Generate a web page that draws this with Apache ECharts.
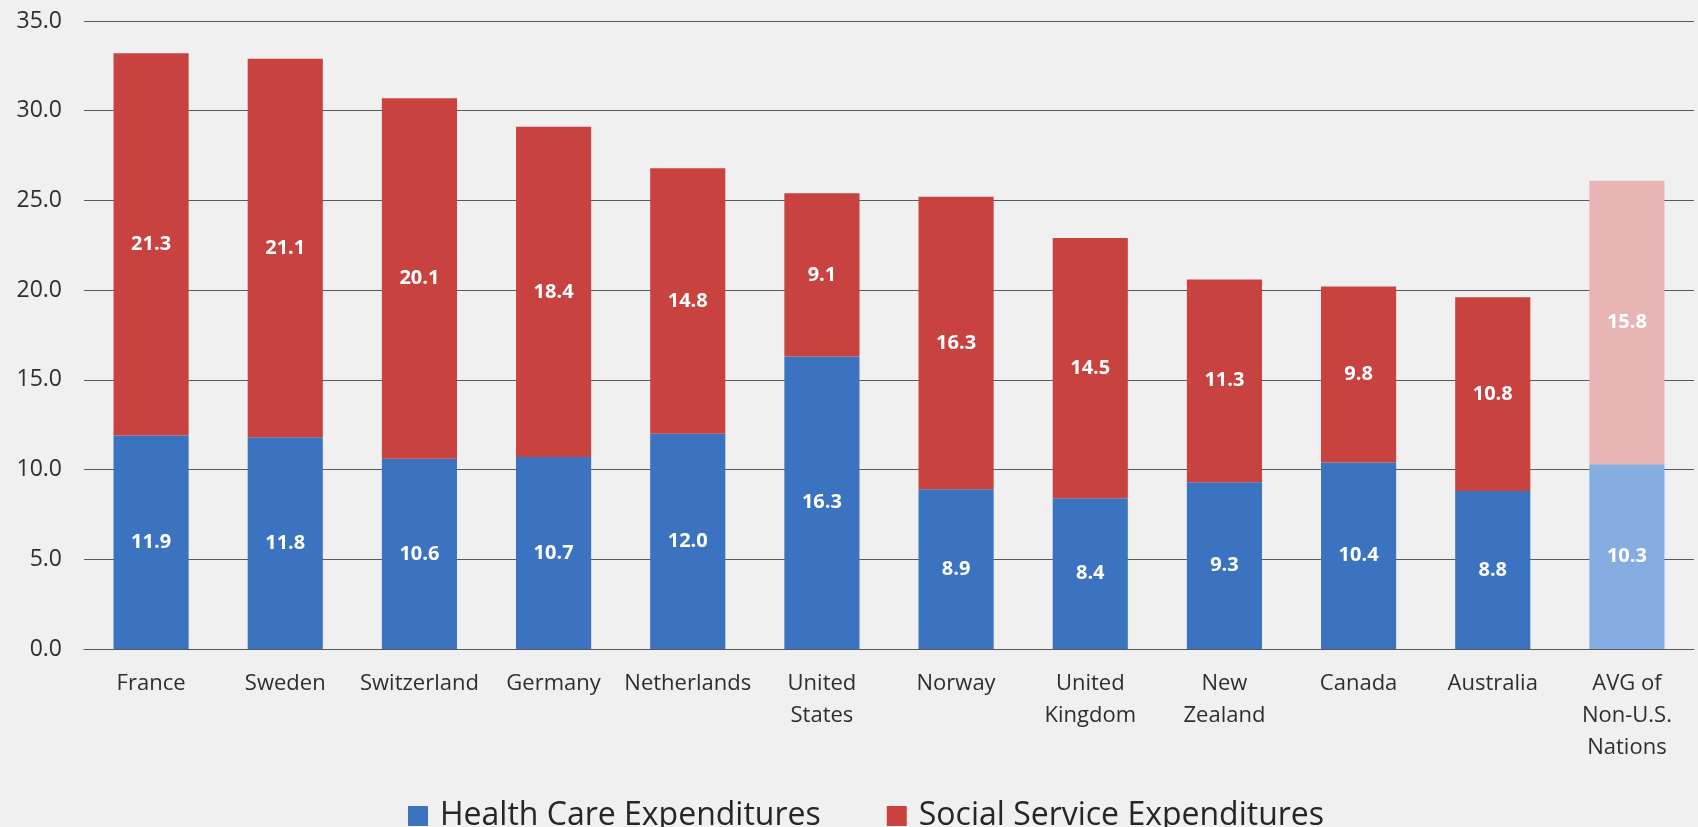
<!DOCTYPE html>
<html>
<head>
<meta charset="utf-8">
<script src="https://cdn.jsdelivr.net/npm/echarts@6/dist/echarts.min.js"></script>
<style>
  html, body { margin: 0; padding: 0; background: #f0f0f0; }
  #chart { width: 1698px; height: 827px; }
</style>
</head>
<body>
<div id="chart"></div>
<script>
// Public spending as % of GDP, health care vs. social services
const countries = [
  'France', 'Sweden', 'Switzerland', 'Germany', 'Netherlands', 'United\nStates',
  'Norway', 'United\nKingdom', 'New\nZealand', 'Canada', 'Australia', 'AVG of\nNon-U.S.\nNations'
];
const healthCare = [11.9, 11.8, 10.6, 10.7, 12.0, 16.3, 8.9, 8.4, 9.3, 10.4, 8.8, 10.3];
const socialService = [21.3, 21.1, 20.1, 18.4, 14.8, 9.1, 16.3, 14.5, 11.3, 9.8, 10.8, 15.8];
const yTicks = { min: 0, max: 35, interval: 5 };

const BLUE = '#3b73c1';
const RED = '#c8423f';
const BLUE_LIGHT = '#86ade2';
const RED_LIGHT = '#e7b5b4';
const FONT = '"Open Sans", "Noto Sans", sans-serif';

// the final average column is drawn in lighter tints
function withAvgTint(values, tint) {
  return values.map((v, i) => i === values.length - 1
    ? { value: v, itemStyle: { color: tint } }
    : v);
}

const valueLabel = {
  show: true,
  position: 'inside',
  color: '#ffffff',
  fontFamily: FONT,
  fontWeight: 'bold',
  fontSize: 20,
  formatter: p => Number(p.value).toFixed(1)
};

const chart = echarts.init(document.getElementById('chart'), null, { renderer: 'canvas' });
chart.setOption({
  backgroundColor: '#f0f0f0',
  animation: false,
  grid: { left: 84, right: 4, top: 21, bottom: 178, containLabel: false },
  legend: {
    left: 403,
    top: 795,
    itemWidth: 20,
    itemHeight: 20,
    itemGap: 66,
    icon: 'rect',
    textStyle: { fontFamily: FONT, fontSize: 32, color: '#262626', padding: [0, 0, 0, 7] },
    data: ['Health Care Expenditures', 'Social Service Expenditures']
  },
  xAxis: {
    type: 'category',
    data: countries,
    axisLine: { show: true, lineStyle: { color: '#595959', width: 1.2 } },
    axisTick: { show: false },
    axisLabel: {
      interval: 0,
      margin: 19,
      color: '#2e2e2e',
      fontFamily: FONT,
      fontSize: 22,
      lineHeight: 32
    }
  },
  yAxis: {
    type: 'value',
    min: yTicks.min,
    max: yTicks.max,
    interval: yTicks.interval,
    axisLine: { show: false },
    axisTick: { show: false },
    splitLine: { lineStyle: { color: '#5a5a5a', width: 1.2 } },
    axisLabel: {
      margin: 22,
      color: '#2e2e2e',
      fontFamily: FONT,
      fontSize: 23,
      formatter: v => v.toFixed(1)
    }
  },
  series: [
    {
      name: 'Health Care Expenditures',
      type: 'bar',
      stack: 'total',
      barWidth: '56%',
      itemStyle: { color: BLUE },
      label: valueLabel,
      data: withAvgTint(healthCare, BLUE_LIGHT)
    },
    {
      name: 'Social Service Expenditures',
      type: 'bar',
      stack: 'total',
      barWidth: '56%',
      itemStyle: { color: RED },
      label: valueLabel,
      data: withAvgTint(socialService, RED_LIGHT)
    }
  ]
});
</script>
</body>
</html>
